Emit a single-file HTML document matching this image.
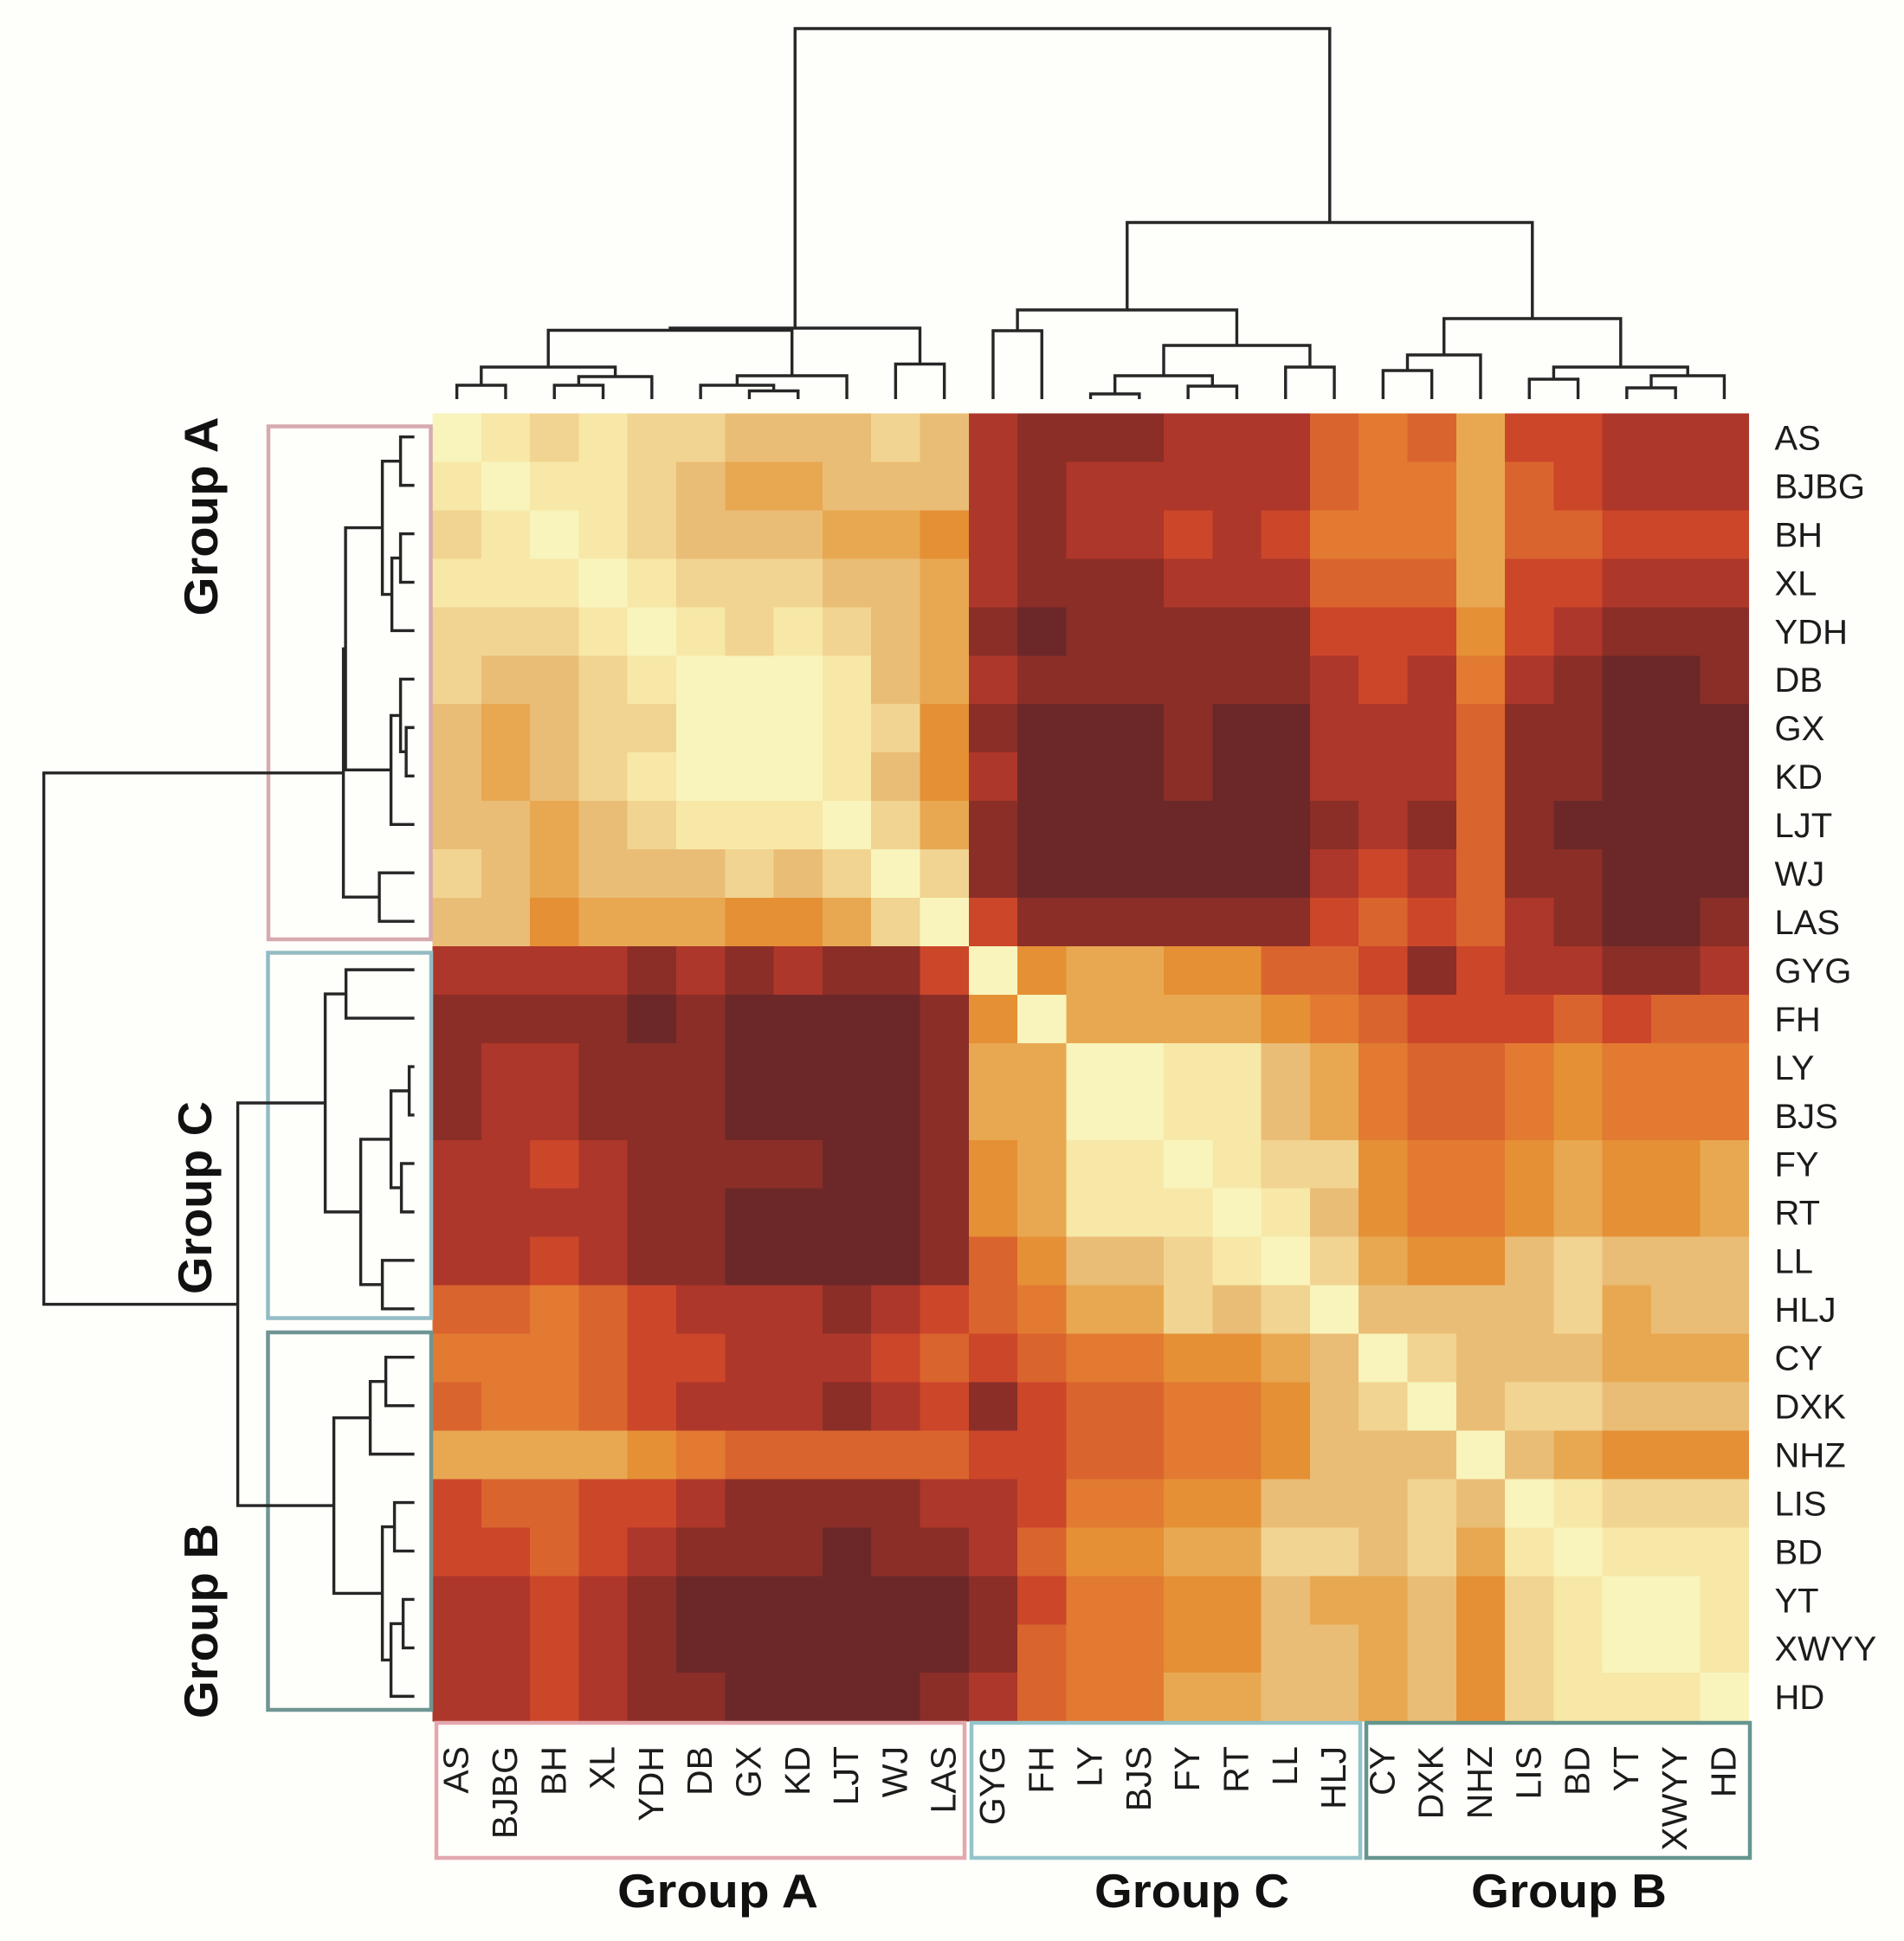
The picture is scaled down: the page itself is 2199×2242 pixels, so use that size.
<!DOCTYPE html>
<html lang="en">
<head>
<meta charset="utf-8">
<title>Clustered heatmap of sample groups</title>
<style>
  html, body { margin: 0; padding: 0; background: #fefefb; }
  svg { display: block; }
  text { font-family: "Liberation Sans", Arial, sans-serif; fill: #1c1c1c; }
  .group-title { font-weight: bold; font-size: 55px; fill: #111; }
</style>
</head>
<body>
<svg id="chart" xmlns="http://www.w3.org/2000/svg" width="2199" height="2242" viewBox="0 0 2199 2242">
  <rect x="0" y="0" width="2199" height="2242" fill="#fefefb"/>
  <g id="heatmap" shape-rendering="crispEdges"></g>
  <g fill="none" stroke-width="4.5">
    <rect x="310" y="492.5" width="187.5" height="592.5" stroke="#d6aab0"/>
    <rect x="309.5" y="1100.5" width="188.5" height="422" stroke="#93bcc4"/>
    <rect x="309.5" y="1539" width="188.5" height="436" stroke="#6f9593"/>
  </g>
  <g fill="none" stroke-width="4.5">
    <rect x="504" y="1990" width="610" height="156" stroke="#e3a8ae"/>
    <rect x="1122" y="1990" width="449" height="156" stroke="#94c4cb"/>
    <rect x="1578" y="1990" width="443" height="156" stroke="#65958f"/>
  </g>
  <g id="top-dendrogram" fill="none" stroke="#262626" stroke-width="3.4"></g>
  <g id="left-dendrogram" fill="none" stroke="#262626" stroke-width="3.4"></g>
  <g id="row-labels"></g>
  <g id="column-labels"></g>
  <text class="group-title" transform="translate(251 711.5) rotate(-90)" textLength="230" lengthAdjust="spacingAndGlyphs">Group A</text>
  <text class="group-title" transform="translate(244 1495) rotate(-90)" textLength="223" lengthAdjust="spacingAndGlyphs">Group C</text>
  <text class="group-title" transform="translate(251 1985) rotate(-90)" textLength="225" lengthAdjust="spacingAndGlyphs">Group B</text>
  <text class="group-title" x="713" y="2203" textLength="232" lengthAdjust="spacingAndGlyphs">Group A</text>
  <text class="group-title" x="1264" y="2203" textLength="225" lengthAdjust="spacingAndGlyphs">Group C</text>
  <text class="group-title" x="1699" y="2203" textLength="226" lengthAdjust="spacingAndGlyphs">Group B</text>
</svg>
<script>
// Sample names, in clustered order (rows and columns share the order).
const samples = ["AS","BJBG","BH","XL","YDH","DB","GX","KD","LJT","WJ","LAS","GYG","FH","LY","BJS","FY","RT","LL","HLJ","CY","DXK","NHZ","LIS","BD","YT","XWYY","HD"];

// Heat values as colour-bin indices, 0 = most similar (pale), 11 = least similar (dark).
const heatValues = [
  [0,1,2,1,2,2,3,3,3,2,3,9,10,10,10,9,9,9,7,6,7,4,8,8,9,9,9],
  [1,0,1,1,2,3,4,4,3,3,3,9,10,9,9,9,9,9,7,6,6,4,7,8,9,9,9],
  [2,1,0,1,2,3,3,3,4,4,5,9,10,9,9,8,9,8,6,6,6,4,7,7,8,8,8],
  [1,1,1,0,1,2,2,2,3,3,4,9,10,10,10,9,9,9,7,7,7,4,8,8,9,9,9],
  [2,2,2,1,0,1,2,1,2,3,4,10,11,10,10,10,10,10,8,8,8,5,8,9,10,10,10],
  [2,3,3,2,1,0,0,0,1,3,4,9,10,10,10,10,10,10,9,8,9,6,9,10,11,11,10],
  [3,4,3,2,2,0,0,0,1,2,5,10,11,11,11,10,11,11,9,9,9,7,10,10,11,11,11],
  [3,4,3,2,1,0,0,0,1,3,5,9,11,11,11,10,11,11,9,9,9,7,10,10,11,11,11],
  [3,3,4,3,2,1,1,1,0,2,4,10,11,11,11,11,11,11,10,9,10,7,10,11,11,11,11],
  [2,3,4,3,3,3,2,3,2,0,2,10,11,11,11,11,11,11,9,8,9,7,10,10,11,11,11],
  [3,3,5,4,4,4,5,5,4,2,0,8,10,10,10,10,10,10,8,7,8,7,9,10,11,11,10],
  [9,9,9,9,10,9,10,9,10,10,8,0,5,4,4,5,5,7,7,8,10,8,9,9,10,10,9],
  [10,10,10,10,11,10,11,11,11,11,10,5,0,4,4,4,4,5,6,7,8,8,8,7,8,7,7],
  [10,9,9,10,10,10,11,11,11,11,10,4,4,0,0,1,1,3,4,6,7,7,6,5,6,6,6],
  [10,9,9,10,10,10,11,11,11,11,10,4,4,0,0,1,1,3,4,6,7,7,6,5,6,6,6],
  [9,9,8,9,10,10,10,10,11,11,10,5,4,1,1,0,1,2,2,5,6,6,5,4,5,5,4],
  [9,9,9,9,10,10,11,11,11,11,10,5,4,1,1,1,0,1,3,5,6,6,5,4,5,5,4],
  [9,9,8,9,10,10,11,11,11,11,10,7,5,3,3,2,1,0,2,4,5,5,3,2,3,3,3],
  [7,7,6,7,8,9,9,9,10,9,8,7,6,4,4,2,3,2,0,3,3,3,3,2,4,3,3],
  [6,6,6,7,8,8,9,9,9,8,7,8,7,6,6,5,5,4,3,0,2,3,3,3,4,4,4],
  [7,6,6,7,8,9,9,9,10,9,8,10,8,7,7,6,6,5,3,2,0,3,2,2,3,3,3],
  [4,4,4,4,5,6,7,7,7,7,7,8,8,7,7,6,6,5,3,3,3,0,3,4,5,5,5],
  [8,7,7,8,8,9,10,10,10,10,9,9,8,6,6,5,5,3,3,3,2,3,0,1,2,2,2],
  [8,8,7,8,9,10,10,10,11,10,10,9,7,5,5,4,4,2,2,3,2,4,1,0,1,1,1],
  [9,9,8,9,10,11,11,11,11,11,11,10,8,6,6,5,5,3,4,4,3,5,2,1,0,0,1],
  [9,9,8,9,10,11,11,11,11,11,11,10,7,6,6,5,5,3,3,4,3,5,2,1,0,0,1],
  [9,9,8,9,10,10,11,11,11,11,10,9,7,6,6,4,4,3,3,4,3,5,2,1,1,1,0]
];

// Linkage: each merge joins two nodes. Ids below 27 are samples; merge k creates node 27 + k.
const mergeLeft  = [0,2,28,27,6,5,32,9,30,35,11,13,15,38,17,40,37,19,44,22,24,47,46,45,43,36];
const mergeRight = [1,3,4,29,7,31,8,10,33,34,12,14,16,39,18,41,42,20,21,23,25,26,48,49,50,51];
const mergeHeights = [16,16,26,37,9.5,16,27,40.5,79.5,82,79,6,15,27,37,62,103,33,51,23,13,27,37,93,204,428];

// Colour bins of the heat scale, pale to dark.
const colorBins = ["#f8f4bc","#f7e8a8","#f1d491","#eabd76","#e8a851","#e59035","#e27a32","#da642e","#cc462a","#ad372a","#8a2e27","#6c2829"];

const SVG_NS = "http://www.w3.org/2000/svg";
const gridLeft = 499.5, gridTop = 477.5, cellW = 56.3, cellH = 55.95;
const colX = i => gridLeft + i * cellW;
const rowY = i => gridTop + i * cellH;
const colCenter = i => colX(i + 0.5);
const rowCenter = i => rowY(i + 0.5);
const topDistance = h => 461 - h;
const leftDistance = h => 478.6 - h;

function make(tag, attrs, parent) {
  const el = document.createElementNS(SVG_NS, tag);
  for (const k in attrs) el.setAttribute(k, attrs[k]);
  parent.appendChild(el);
  return el;
}

const heatmapLayer = document.getElementById("heatmap");
heatValues.forEach((row, r) => {
  row.forEach((v, c) => {
    const cell = make("rect", {
      x: colX(c), y: rowY(r), width: cellW + 0.3, height: cellH + 0.3,
      fill: colorBins[v]
    }, heatmapLayer);
    
    
  });
});

function drawDendrogram(layer, leafPos, distance, horizontalRoot, linkName) {
  const position = {};
  const level = {};
  samples.forEach((s, i) => { position[i] = leafPos(i); level[i] = 0; });
  mergeHeights.forEach((h, k) => {
    const a = mergeLeft[k], b = mergeRight[k], id = samples.length + k;
    const pa = position[a], pb = position[b];
    const da = distance(level[a]), db = distance(level[b]), dh = distance(h);
    const d = horizontalRoot
      ? `M${pa} ${da}V${dh}H${pb}V${db}`
      : `M${da} ${pa}H${dh}V${pb}H${db}`;
    const link = make("path", { d: d }, layer);
    
    
    position[id] = (pa + pb) / 2;
    level[id] = h;
  });
}
drawDendrogram(document.getElementById("top-dendrogram"), colCenter, topDistance, true, 'top-dendrogram-link');
drawDendrogram(document.getElementById("left-dendrogram"), i => rowCenter(i) - 0.8, leftDistance, false, 'left-dendrogram-link');

const rowLabelLayer = document.getElementById("row-labels");
const columnLabelLayer = document.getElementById("column-labels");
samples.forEach((name, i) => {
  const rowLabel = make("text", { x: 2049.5, y: rowCenter(i) + 14, "font-size": 40 }, rowLabelLayer);
  rowLabel.textContent = name;
  
  
  const colLabel = make("text", {
    transform: `translate(${colCenter(i) + 13} 2017) rotate(-90)`,
    "text-anchor": "end", "font-size": 41
  }, columnLabelLayer);
  colLabel.textContent = name;
  
  
});
</script>
</body>
</html>
